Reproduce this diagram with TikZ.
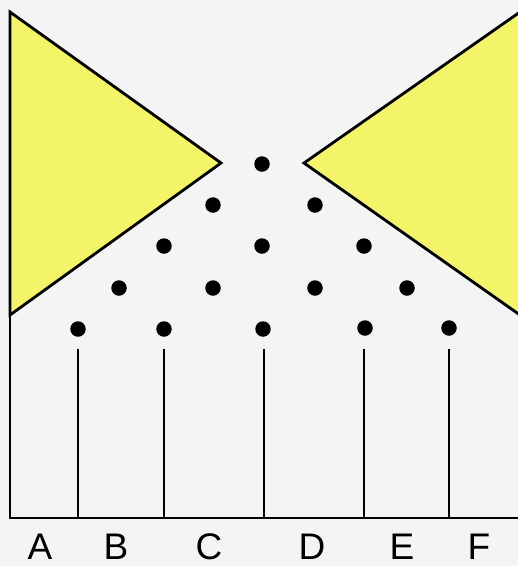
\documentclass[tikz,border=0pt]{standalone}
\usepackage{fontspec}
\setmainfont{Liberation Sans}
\usepackage{tikz}
\definecolor{paper}{RGB}{244,244,244}
\definecolor{wedge}{RGB}{244,244,104}
\tikzset{
  wedgebox/.style={draw=black, line width=2.8pt, fill=wedge, line join=miter},
  ball/.style={circle, fill=black, minimum size=15.5pt, inner sep=0pt},
  pin/.style={draw=black, line width=2.6pt},
  letter/.style={font=\fontsize{37}{40}\selectfont, anchor=base, inner sep=0pt},
}
\begin{document}
\begin{tikzpicture}[x=1pt, y=-1pt]
  \useasboundingbox (0,0) rectangle (518,566);
  \fill[paper] (0,0) rectangle (518,566);
  % wedges
  \draw[wedgebox] (10,12) -- (221,163) -- (10,315) -- cycle;
  \draw[wedgebox] (520,12) -- (304,163) -- (520,315);
  % frame
  \coordinate (fl) at (10,12);
  \coordinate (bl) at (10,518);
  \coordinate (br) at (520,518);
  \draw[pin] (fl) -- (bl) -- (br);
  % balls
  \node[ball] (r1a) at (262,164) {};
  \node[ball] (r2a) at (213,205) {};
  \node[ball] (r2b) at (315,205) {};
  \node[ball] (r3a) at (164,246) {};
  \node[ball] (r3b) at (262,246) {};
  \node[ball] (r3c) at (364,246) {};
  \node[ball] (r4a) at (119,288) {};
  \node[ball] (r4b) at (213,288) {};
  \node[ball] (r4c) at (315,288) {};
  \node[ball] (r4d) at (407,288) {};
  \node[ball] (r5a) at (78,329) {};
  \node[ball] (r5b) at (164,329) {};
  \node[ball] (r5c) at (263,329) {};
  \node[ball] (r5d) at (365,328) {};
  \node[ball] (r5e) at (449,328) {};
  % pins
  \foreach \b/\x in {r5a/78, r5b/164, r5c/264, r5d/364, r5e/449} {
    \coordinate (\b top) at (\x,349);
    \coordinate (\b foot) at (\x,518);
    \draw[pin] (\b top) -- (\b foot);
  }
  % bins
  \node[letter] (la) at (40,559) {A};
  \node[letter] (lb) at (116,559) {B};
  \node[letter] (lc) at (209,559) {C};
  \node[letter] (ld) at (312,559) {D};
  \node[letter] (le) at (402,559) {E};
  \node[letter] (lf) at (479,559) {F};
\end{tikzpicture}
\end{document}
